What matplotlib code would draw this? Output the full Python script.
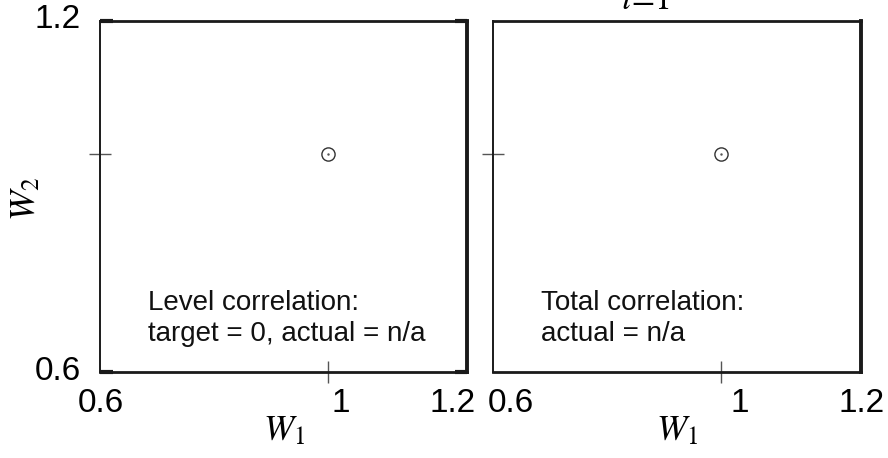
import matplotlib
matplotlib.use("Agg")
import matplotlib.pyplot as plt
from matplotlib.transforms import ScaledTranslation, blended_transform_factory

# ---- data ----
w1_points = [1.0]
w2_points = [1.0]
axis_min = 0.6
axis_max = 1.245
edge_labels = ["0.6", "1.2"]
mid_tick = [1.0]
mid_label = ["1"]
panel_texts = ["Level correlation:\ntarget = 0, actual = n/a",
               "Total correlation:\nactual = n/a"]

plt.rcParams['font.family'] = ['Liberation Sans', 'DejaVu Sans']
plt.rcParams['mathtext.fontset'] = 'stix'

fig = plt.figure(figsize=(8.88, 4.58), dpi=100)
H = 458.0
W = 888.0
def rect(x0, x1, y0, y1):
    return [x0 / W, (H - y1) / H, (x1 - x0) / W, (y1 - y0) / H]

axL = fig.add_axes(rect(100, 467, 21, 372))
axR = fig.add_axes(rect(493, 861, 21, 372))

dark = '#1a1a1a'
TICK_FS = 24
label_y = 1 - 404 / H

for ax, txt, lab_off in [(axL, panel_texts[0], 13), (axR, panel_texts[1], 19)]:
    ax.set_xlim(axis_min, axis_max)
    ax.set_ylim(axis_min, axis_max)
    ax.plot(w1_points, w2_points, 'o', ms=9.5, mfc='white', mec='#333333', mew=1.0, zorder=5)
    ax.plot(w1_points, w2_points, '.', ms=1.5, color='#555555', zorder=6)
    for side, lw in [('left', 1.4), ('top', 2.0), ('bottom', 2.0), ('right', 2.8)]:
        ax.spines[side].set_linewidth(lw)
        ax.spines[side].set_color(dark)
    ax.set_xticks(mid_tick)
    ax.set_xticklabels([])
    ax.set_yticks(mid_tick)
    ax.set_yticklabels([])
    ax.tick_params(axis='both', which='major', direction='inout', length=16,
                   width=1.0, color='#555555')
    bt = blended_transform_factory(ax.transData, fig.transFigure)
    ax.text(mid_tick[0], label_y, mid_label[0],
            transform=bt + ScaledTranslation(lab_off / 100, 0, fig.dpi_scale_trans),
            fontsize=TICK_FS, ha='center', va='center')
    ax.set_xlabel(r'$W_1$', fontsize=26, labelpad=18)
    ax.text(0.13, 0.235, txt, transform=ax.transAxes, fontsize=20,
            va='top', ha='left', linespacing=1.25, color='#111111')

def fig_text(x, y, s, **kw):
    fig.text(x / W, 1 - y / H, s, fontsize=TICK_FS, va='center', **kw)

# edge x labels
fig_text(101, 404, edge_labels[0], ha='center')
fig_text(453, 404, edge_labels[1], ha='center')
fig_text(511, 404, edge_labels[0], ha='center')
fig_text(862, 404, edge_labels[1], ha='center')
# edge y labels
fig_text(81, 20, edge_labels[1], ha='right')
fig_text(81, 372, edge_labels[0], ha='right')

# corner ticks on left panel
axL.set_yticks([axis_min, axis_max], minor=True)
axL.tick_params(axis='y', which='minor', direction='in', length=9, width=3,
                color=dark, left=True, right=True, labelleft=False)

# y axis label
fig.text(26 / W, 1 - 199 / H, r'$W_2$', fontsize=26, rotation=90,
         ha='center', va='center')

# top clipped text (subscript of a title above the figure)
fig.text(645 / W, 1 - 9 / H, r'$i\!=\!1$', fontsize=24, ha='center', va='baseline')

fig.savefig('out.png', dpi=100)
